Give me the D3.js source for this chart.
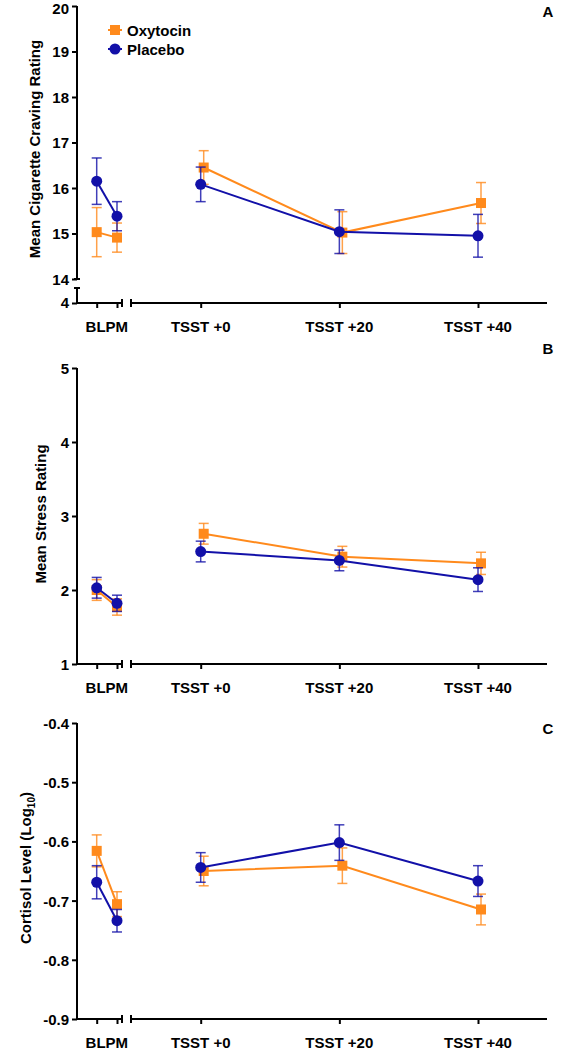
<!DOCTYPE html>
<html>
<head>
<meta charset="utf-8">
<script src="https://cdn.jsdelivr.net/npm/d3@7"></script>
<style>
  html, body { margin: 0; padding: 0; background: #fff; }
  svg { display: block; font-family: "Liberation Sans", Arial, sans-serif; font-weight: bold; }
</style>
</head>
<body>
<svg id="chart" width="573" height="1050"></svg>
<script>
// ---------------- data ----------------
const timepoints = ["BLPM 1", "BLPM 2", "TSST +0", "TSST +20", "TSST +40"];
const xTickLabels = ["BLPM", "TSST +0", "TSST +20", "TSST +40"];
const seriesNames = ["Oxytocin", "Placebo"];

const cravingOxy    = [15.03, 14.91, 16.45, 15.02, 15.67];
const cravingOxyErr = [0.54, 0.32, 0.37, 0.46, 0.45];
const cravingPla    = [16.15, 15.38, 16.08, 15.04, 14.95];
const cravingPlaErr = [0.51, 0.32, 0.38, 0.48, 0.47];

const stressOxy    = [2.00, 1.77, 2.76, 2.45, 2.36];
const stressOxyErr = [0.14, 0.11, 0.14, 0.14, 0.15];
const stressPla    = [2.03, 1.82, 2.52, 2.40, 2.14];
const stressPlaErr = [0.14, 0.11, 0.14, 0.14, 0.16];

const cortisolOxy    = [-0.616, -0.706, -0.650, -0.641, -0.715];
const cortisolOxyErr = [0.027, 0.021, 0.025, 0.030, 0.026];
const cortisolPla    = [-0.669, -0.734, -0.644, -0.602, -0.667];
const cortisolPlaErr = [0.028, 0.019, 0.025, 0.030, 0.026];

const cravingTicks  = [14, 15, 16, 17, 18, 19, 20];
const cravingBreakTick = [4];
const stressTicks   = [1, 2, 3, 4, 5];
const cortisolTicks = [-0.9, -0.8, -0.7, -0.6, -0.5, -0.4];

// ---------------- style / layout ----------------
const ORANGE = "#FF8A1C";
const BLUE = "#1210A8";
const axisX = 77;
const xBL = d3.scaleLinear().domain([0, 1]).range([96.7, 117]);
const xTS = d3.scaleLinear().domain([2, 4]).range([200.7, 478]);
const xPos = (i, s) => i < 2 ? xBL(i) : xTS(i) + (s === 0 ? 3 : 0);
const hyphenFmt = f => d => d3.format(f)(d).replace("\u2212", "-");

const svg = d3.select("#chart");

function drawPanel(cfg) {
  const g = svg.append("g");
  const y = cfg.y;

  // y axis
  const yAxis = d3.axisLeft(y).tickValues(cfg.ticks).tickSize(5).tickPadding(3).tickSizeOuter(0)
    .tickFormat(cfg.fmt || d3.format("d"));
  const ya = g.append("g").attr("transform", `translate(${axisX},0)`).call(yAxis);
  ya.select(".domain").attr("d", `M0,${y.range()[0]}V${y.range()[1]}`);
  // keep the top-most label inside the picture
  ya.selectAll(".tick text").attr("dy", d => (y(d) < 10 ? "0.52em" : "0.36em"));

  let xAxisY = y.range()[0];
  if (cfg.yBreak) {
    const yb = cfg.yBreak;
    const yba = g.append("g").attr("transform", `translate(${axisX},0)`)
      .call(d3.axisLeft(yb).tickValues(cravingBreakTick).tickSize(5).tickPadding(3).tickSizeOuter(0).tickFormat(d3.format("d")));
    yba.select(".domain").attr("d", `M0,${yb.range()[0]}V${yb.range()[1]}`);
    // break caps
    g.append("line").attr("x1", axisX - 3).attr("x2", axisX + 3).attr("y1", y.range()[0]).attr("y2", y.range()[0]);
    g.append("line").attr("x1", axisX - 3).attr("x2", axisX + 3).attr("y1", yb.range()[1]).attr("y2", yb.range()[1]);
    xAxisY = yb.range()[0];
  }
  g.selectAll("line").attr("stroke", "#000").attr("stroke-width", 2);
  g.selectAll(".tick text").attr("font-size", 15).attr("font-weight", "bold").attr("fill", "#000")
    .attr("font-family", "Liberation Sans, Arial, sans-serif");
  g.selectAll(".domain").attr("stroke", "#000").attr("stroke-width", 2);
  g.selectAll(".tick line").attr("stroke", "#000").attr("stroke-width", 2);

  // x axis: two segments
  const xa1 = g.append("g").attr("transform", `translate(0,${xAxisY})`)
    .call(d3.axisBottom(xBL).tickValues([0, 1]).tickSize(5).tickSizeOuter(0).tickFormat(""));
  xa1.select(".domain").attr("d", `M${axisX},0H122`);
  const xa2 = g.append("g").attr("transform", `translate(0,${xAxisY})`)
    .call(d3.axisBottom(xTS).tickValues([2, 3, 4]).tickSize(5).tickSizeOuter(0).tickFormat(""));
  xa2.select(".domain").attr("d", `M131,0H547`);
  [xa1, xa2].forEach(a => {
    a.selectAll(".domain").attr("stroke", "#000").attr("stroke-width", 2);
    a.selectAll(".tick line").attr("stroke", "#000").attr("stroke-width", 2);
  });
  g.append("line").attr("x1", 122).attr("x2", 122).attr("y1", xAxisY - 4).attr("y2", xAxisY + 4)
    .attr("stroke", "#000").attr("stroke-width", 2);
  g.append("line").attr("x1", 131).attr("x2", 131).attr("y1", xAxisY - 4).attr("y2", xAxisY + 4)
    .attr("stroke", "#000").attr("stroke-width", 2);

  // x labels
  const labelX = [(xBL(0) + xBL(1)) / 2, xTS(2), xTS(3), xTS(4)];
  g.selectAll("text.xl").data(xTickLabels).join("text").attr("class", "xl")
    .attr("x", (d, i) => labelX[i]).attr("y", xAxisY + 29)
    .attr("text-anchor", "middle").attr("font-size", 15).text(d => d);

  // y title
  const t = g.append("text").attr("transform", `translate(${cfg.titleX},${cfg.titleY}) rotate(-90)`)
    .attr("text-anchor", "middle").attr("font-size", 15);
  cfg.title(t);

  // panel letter
  g.append("text").attr("x", 548).attr("y", cfg.letterY).attr("text-anchor", "middle")
    .attr("font-size", 15).text(cfg.letter);

  // series
  const series = [
    { vals: cfg.oxy, err: cfg.oxyErr, color: ORANGE, shape: "square", s: 0 },
    { vals: cfg.pla, err: cfg.plaErr, color: BLUE, shape: "circle", s: 1 }
  ];
  const line = d3.line().x(d => d.x).y(d => d.y);
  series.forEach(se => {
    const pts = se.vals.map((v, i) => ({ x: xPos(i, se.s), y: y(v), lo: y(v - se.err[i]), hi: y(v + se.err[i]) }));
    const sg = g.append("g");
    // error bars
    pts.forEach(p => {
      sg.append("line").attr("x1", p.x).attr("x2", p.x).attr("y1", p.lo).attr("y2", p.hi)
        .attr("stroke", se.color).attr("stroke-width", 1.5).attr("opacity", 0.8);
      [p.lo, p.hi].forEach(yy => sg.append("line").attr("x1", p.x - 5).attr("x2", p.x + 5)
        .attr("y1", yy).attr("y2", yy).attr("stroke", se.color).attr("stroke-width", 1.5).attr("opacity", 0.8));
    });
    // lines: BLPM segment and TSST segment
    sg.append("path").attr("d", line(pts.slice(0, 2))).attr("fill", "none").attr("stroke", se.color).attr("stroke-width", 2);
    sg.append("path").attr("d", line(pts.slice(2))).attr("fill", "none").attr("stroke", se.color).attr("stroke-width", 2);
    // markers
    pts.forEach(p => {
      if (se.shape === "square") sg.append("rect").attr("x", p.x - 5).attr("y", p.y - 5).attr("width", 10).attr("height", 10).attr("fill", se.color);
      else sg.append("circle").attr("cx", p.x).attr("cy", p.y).attr("r", 5.5).attr("fill", se.color);
    });
  });
}

// Panel A
drawPanel({
  y: d3.scaleLinear().domain([14, 20]).range([279, 6]),
  yBreak: d3.scaleLinear().domain([4, 4.33]).range([303, 288]),
  ticks: cravingTicks,
  oxy: cravingOxy, oxyErr: cravingOxyErr, pla: cravingPla, plaErr: cravingPlaErr,
  titleX: 40, titleY: 149,
  title: t => t.text("Mean Cigarette Craving Rating"),
  letter: "A", letterY: 17
});

// Panel B
drawPanel({
  y: d3.scaleLinear().domain([1, 5]).range([664, 368]),
  ticks: stressTicks,
  oxy: stressOxy, oxyErr: stressOxyErr, pla: stressPla, plaErr: stressPlaErr,
  titleX: 46, titleY: 514,
  title: t => t.text("Mean Stress Rating"),
  letter: "B", letterY: 354
});

// Panel C
drawPanel({
  y: d3.scaleLinear().domain([-0.9, -0.4]).range([1019, 723]),
  ticks: cortisolTicks, fmt: hyphenFmt(".1f"),
  oxy: cortisolOxy, oxyErr: cortisolOxyErr, pla: cortisolPla, plaErr: cortisolPlaErr,
  titleX: 31, titleY: 868,
  title: t => {
    t.append("tspan").text("Cortisol Level (Log");
    t.append("tspan").attr("font-size", 10).attr("dy", 4).text("10");
    t.append("tspan").attr("dy", -4).text(")");
  },
  letter: "C", letterY: 734
});

// Legend (panel A)
const legend = svg.append("g");
[{ name: seriesNames[0], color: ORANGE, shape: "square", y: 30 },
 { name: seriesNames[1], color: BLUE, shape: "circle", y: 49 }].forEach(l => {
  legend.append("line").attr("x1", 108).attr("x2", 122).attr("y1", l.y).attr("y2", l.y)
    .attr("stroke", l.color).attr("stroke-width", 2);
  if (l.shape === "square") legend.append("rect").attr("x", 110).attr("y", l.y - 5).attr("width", 10).attr("height", 10).attr("fill", l.color);
  else legend.append("circle").attr("cx", 115).attr("cy", l.y).attr("r", 5.5).attr("fill", l.color);
  legend.append("text").attr("x", 127).attr("y", l.y + 5.5).attr("font-size", 15).text(l.name);
});
</script>
</body>
</html>
